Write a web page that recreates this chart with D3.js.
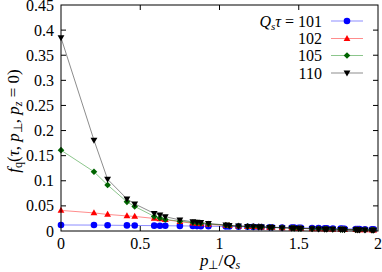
<!DOCTYPE html>
<html>
<head>
<meta charset="utf-8">
<script src="https://cdn.jsdelivr.net/npm/d3@7"></script>
<style>
body{margin:0;background:#fff}
text{font-family:"Liberation Serif",serif;fill:#000}
</style>
</head>
<body>
<div id="chart"></div>
<script>
var w = 382, h = 272
var margin = {left:61, right:4, top:5, bottom:41}

// p_perp / Q_s grid
var pperp = [0,0.208,0.294,0.416,0.465,0.588,0.624,0.658,0.750,0.832,0.858,0.882,0.930,
    1.040,1.061,1.120,1.177,1.213,1.248,1.265,1.316,1.332,1.395,1.456,1.471,1.500,1.514,
    1.584,1.625,1.664,1.677,1.715,1.765,1.777,1.789,1.860,1.872,1.883,1.918,1.962,1.973]

var labels = ["101","102","105","110"]
var f101 = [0.012,0.0118,0.0115,0.0112,0.011,0.0107,0.0106,0.0105,0.0102,0.0099,0.0098,0.0097,0.0095,
    0.0091,0.009,0.0087,0.0084,0.0082,0.008,0.0079,0.0076,0.0075,0.0071,0.0068,0.0067,0.0065,0.0064,
    0.006,0.0057,0.0054,0.0053,0.0051,0.0047,0.0046,0.0045,0.0041,0.004,0.0039,0.0036,0.0033,0.0032]
var f102 = [0.041,0.036,0.033,0.030,0.029,0.025,0.024,0.0225,0.0185,0.0155,0.015,0.0142,0.013,
    0.0112,0.0106,0.0096,0.009,0.0086,0.0082,0.0079,0.0074,0.0071,0.0064,0.0058,0.0056,0.0053,0.0051,
    0.0045,0.0042,0.0039,0.0038,0.0035,0.0032,0.0031,0.003,0.0026,0.0025,0.0024,0.0022,0.002,0.0019]
var f105 = [0.161,0.118,0.0916,0.058,0.049,0.029,0.026,0.023,0.0195,0.017,0.0162,0.0155,0.014,
    0.0115,0.0108,0.0098,0.0092,0.0088,0.0083,0.008,0.0075,0.0072,0.0065,0.0059,0.0057,0.0054,0.0052,
    0.0046,0.0043,0.004,0.0039,0.0036,0.0033,0.0032,0.0031,0.0027,0.0026,0.0025,0.0023,0.0021,0.002]
var f110 = [0.385,0.181,0.103,0.064,0.054,0.035,0.032,0.0285,0.022,0.0185,0.0175,0.017,0.015,
    0.012,0.011,0.010,0.0093,0.0088,0.0083,0.008,0.0074,0.0071,0.0064,0.0058,0.0056,0.0053,0.0051,
    0.0045,0.0042,0.0039,0.0038,0.0035,0.0031,0.003,0.0029,0.0025,0.0024,0.0023,0.0021,0.0018,0.0017]

var xTicks = [0,0.5,1,1.5,2]
var xTickLabels = ["0","0.5","1","1.5","2"]
var yTicks = [0,0.05,0.1,0.15,0.2,0.25,0.3,0.35,0.4,0.45]
var yTickLabels = ["0","0.05","0.1","0.15","0.2","0.25","0.3","0.35","0.4","0.45"]

var series = [
    {name:labels[0], values:f101, color:"#0000ff", line:"#0000ff", mark:"circle"},
    {name:labels[1], values:f102, color:"#ff0000", line:"#ff0000", mark:"triup"},
    {name:labels[2], values:f105, color:"#006400", line:"#008000", mark:"diamond"},
    {name:labels[3], values:f110, color:"#000000", line:"#000000", mark:"tridown"}
]

var svg = d3.select("#chart").append("svg").attr("width", w).attr("height", h)

var x = d3.scaleLinear().domain([0,2]).range([margin.left, w-margin.right])
var y = d3.scaleLinear().domain([0,0.45]).range([h-margin.bottom, margin.top])

var x0 = x.range()[0], x1 = x.range()[1], y0 = y.range()[0], y1 = y.range()[1]
var tk = 5

// ticks (inward, mirrored)
var g = svg.append("g").attr("stroke","#000").attr("stroke-width",1)
xTicks.forEach(function(t,i){
    if(i==0 || i==xTicks.length-1) return
    g.append("line").attr("x1",x(t)).attr("x2",x(t)).attr("y1",y0).attr("y2",y0-tk)
    g.append("line").attr("x1",x(t)).attr("x2",x(t)).attr("y1",y1).attr("y2",y1+tk)
})
yTicks.forEach(function(t,i){
    if(i==0 || i==yTicks.length-1) return
    g.append("line").attr("x1",x0).attr("x2",x0+tk).attr("y1",y(t)).attr("y2",y(t))
    g.append("line").attr("x1",x1).attr("x2",x1-tk).attr("y1",y(t)).attr("y2",y(t))
})

xTicks.forEach(function(t,i){
    svg.append("text").attr("x",x(t)).attr("y",y0+18).attr("text-anchor","middle")
        .attr("font-size",16).text(xTickLabels[i])
})
yTicks.forEach(function(t,i){
    svg.append("text").attr("x",x0-7).attr("y",y(t)+5.5).attr("text-anchor","end")
        .attr("font-size",16).text(yTickLabels[i])
})

function marker(sel, type, color){
    if(type=="circle"){
        sel.append("circle").attr("r",3.3).attr("fill",color)
    }else if(type=="triup"){
        sel.append("path").attr("d","M0,-3.6L3.4,2.4L-3.4,2.4Z").attr("fill",color)
    }else if(type=="tridown"){
        sel.append("path").attr("d","M0,3.6L3.4,-2.4L-3.4,-2.4Z").attr("fill",color)
    }else{
        sel.append("path").attr("d","M0,-3.3L3.3,0L0,3.3L-3.3,0Z").attr("fill",color)
    }
}

var line = d3.line().x(function(d){return x(d[0])}).y(function(d){return y(d[1])})

series.forEach(function(s){
    var pts = pperp.map(function(p,i){return [p, s.values[i]]})
    svg.append("path").datum(pts).attr("d",line).attr("fill","none")
        .attr("stroke",s.line).attr("stroke-opacity",0.45).attr("stroke-width",1)
    svg.append("g").selectAll("g").data(pts).enter().append("g")
        .attr("transform",function(d){return "translate("+x(d[0])+","+y(d[1])+")"})
        .each(function(){ marker(d3.select(this), s.mark, s.color) })
})

// frame
svg.append("rect").attr("x",x0).attr("y",y1).attr("width",x1-x0).attr("height",y0-y1)
    .attr("fill","none").attr("stroke","#000").attr("stroke-width",1)

// legend
var legY = [21,38.5,55.5,73]
series.forEach(function(s,i){
    var t = svg.append("text").attr("x",322).attr("y",legY[i]+5.5).attr("text-anchor","end").attr("font-size",16)
    if(i==0){
        t.append("tspan").attr("font-style","italic").text("Q")
        t.append("tspan").attr("font-style","italic").attr("font-size",11).attr("dy",3).text("s")
        t.append("tspan").attr("font-style","italic").attr("dy",-3).text("τ")
        t.append("tspan").text(" = "+s.name)
    }else{
        t.text(s.name)
    }
    svg.append("line").attr("x1",331).attr("x2",363).attr("y1",legY[i]).attr("y2",legY[i])
        .attr("stroke",s.line).attr("stroke-opacity",0.45)
    marker(svg.append("g").attr("transform","translate(347,"+legY[i]+")"), s.mark, s.color)
})

// axis labels
var xl = svg.append("text").attr("x",220).attr("y",266).attr("text-anchor","middle").attr("font-size",17)
xl.append("tspan").attr("font-style","italic").text("p")
xl.append("tspan").attr("font-size",12).attr("dy",3).text("⊥")
xl.append("tspan").attr("dy",-3).text("/")
xl.append("tspan").attr("font-style","italic").text("Q")
xl.append("tspan").attr("font-style","italic").attr("font-size",12).attr("dy",3).text("s")

var yl = svg.append("text").attr("transform","translate(19,121) rotate(-90)")
    .attr("text-anchor","middle").attr("font-size",17)
yl.append("tspan").attr("font-style","italic").text("f")
yl.append("tspan").attr("font-size",12).attr("dy",3).text("q")
yl.append("tspan").attr("dy",-3).text("(")
yl.append("tspan").attr("font-style","italic").text("τ")
yl.append("tspan").text(", ")
yl.append("tspan").attr("font-style","italic").text("p")
yl.append("tspan").attr("font-size",12).attr("dy",3).text("⊥")
yl.append("tspan").attr("dy",-3).text(", ")
yl.append("tspan").attr("font-style","italic").text("p")
yl.append("tspan").attr("font-style","italic").attr("font-size",12).attr("dy",3).text("z")
yl.append("tspan").attr("dy",-3).text(" = 0)")
</script>
</body>
</html>
